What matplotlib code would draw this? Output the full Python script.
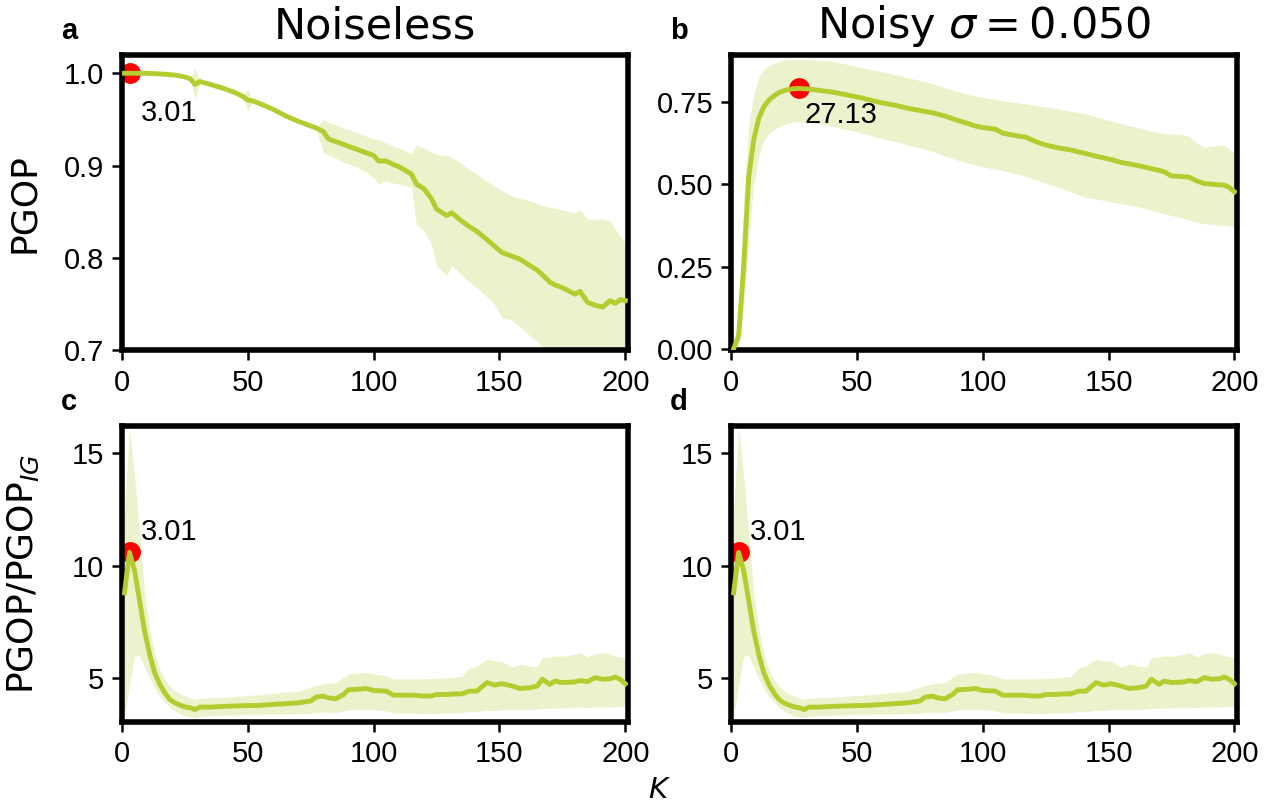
import matplotlib

matplotlib.use("Agg")
import matplotlib.pyplot as plt

# K grid (shared by all panels)
K = [1, 3.01, 5, 7, 9, 11, 13, 15, 17, 19,
     21, 23, 25, 27.13, 29, 31, 35, 40, 45, 48,
     50, 52, 55, 60, 65, 70, 75, 77, 80, 82,
     85, 88, 90, 95, 97, 100, 102, 105, 108, 110,
     115, 117, 120, 123, 125, 129, 131, 135, 138, 141,
     145, 148, 151, 155, 158, 162, 165, 167, 170, 172,
     175, 180, 182, 185, 188, 191, 194, 196, 198, 200]

# a: PGOP, noiseless
PGOP_CLEAN = [1.000, 1.000, 1.000, 1.000, 1.000, 0.9998, 0.9996, 0.9993, 0.999, 0.9985,
              0.998, 0.997, 0.996, 0.994, 0.988, 0.991, 0.988, 0.984, 0.979, 0.975,
              0.971, 0.970, 0.967, 0.961, 0.954, 0.948, 0.943, 0.941, 0.937, 0.929,
              0.926, 0.923, 0.921, 0.916, 0.914, 0.911, 0.905, 0.905, 0.901, 0.899,
              0.891, 0.880, 0.875, 0.864, 0.853, 0.846, 0.849, 0.840, 0.834, 0.829,
              0.820, 0.813, 0.806, 0.802, 0.799, 0.792, 0.787, 0.782, 0.774, 0.771,
              0.768, 0.761, 0.764, 0.752, 0.749, 0.747, 0.754, 0.751, 0.755, 0.754]
PGOP_CLEAN_HI = [1.000, 1.000, 1.000, 1.000, 1.000, 0.9998, 0.9996, 0.9993, 0.999, 0.9985,
                 0.998, 0.997, 0.996, 0.994, 1.006, 0.991, 0.988, 0.984, 0.979, 0.975,
                 0.983, 0.970, 0.967, 0.961, 0.954, 0.948, 0.943, 0.941, 0.950, 0.947,
                 0.944, 0.941, 0.939, 0.934, 0.932, 0.929, 0.928, 0.925, 0.921, 0.919,
                 0.913, 0.922, 0.919, 0.915, 0.912, 0.911, 0.909, 0.902, 0.896, 0.891,
                 0.883, 0.878, 0.873, 0.867, 0.865, 0.862, 0.859, 0.857, 0.855, 0.854,
                 0.852, 0.849, 0.852, 0.842, 0.842, 0.842, 0.840, 0.831, 0.824, 0.817]
PGOP_CLEAN_LO = [1.000, 1.000, 1.000, 1.000, 1.000, 0.9998, 0.9996, 0.9993, 0.999, 0.9985,
                 0.998, 0.997, 0.996, 0.994, 0.972, 0.991, 0.988, 0.984, 0.979, 0.975,
                 0.959, 0.970, 0.967, 0.961, 0.954, 0.948, 0.943, 0.941, 0.914, 0.912,
                 0.908, 0.904, 0.902, 0.896, 0.893, 0.887, 0.880, 0.884, 0.881, 0.880,
                 0.877, 0.836, 0.830, 0.815, 0.792, 0.781, 0.792, 0.782, 0.774, 0.768,
                 0.758, 0.750, 0.735, 0.733, 0.726, 0.716, 0.710, 0.703, 0.695, 0.690,
                 0.685, 0.678, 0.675, 0.672, 0.668, 0.665, 0.663, 0.662, 0.660, 0.660]

# b: PGOP, noisy sigma = 0.05
PGOP_NOISY = [0.000, 0.040, 0.25, 0.52, 0.635, 0.70, 0.735, 0.755, 0.768, 0.778,
              0.784, 0.788, 0.790, 0.791, 0.790, 0.789, 0.785, 0.780, 0.773, 0.768,
              0.765, 0.762, 0.756, 0.747, 0.740, 0.731, 0.724, 0.721, 0.717, 0.713,
              0.707, 0.699, 0.694, 0.682, 0.677, 0.672, 0.670, 0.667, 0.655, 0.652,
              0.645, 0.643, 0.633, 0.624, 0.619, 0.612, 0.609, 0.604, 0.598, 0.593,
              0.585, 0.580, 0.575, 0.566, 0.562, 0.556, 0.551, 0.547, 0.542, 0.538,
              0.525, 0.523, 0.521, 0.510, 0.502, 0.500, 0.498, 0.497, 0.490, 0.477]
PGOP_NOISY_LO = [0.000, 0.000, 0.12, 0.33, 0.50, 0.585, 0.634, 0.652, 0.665, 0.674,
                 0.681, 0.686, 0.689, 0.690, 0.689, 0.688, 0.683, 0.676, 0.668, 0.663,
                 0.659, 0.655, 0.649, 0.639, 0.630, 0.620, 0.611, 0.606, 0.600, 0.594,
                 0.585, 0.578, 0.573, 0.562, 0.558, 0.553, 0.550, 0.546, 0.542, 0.538,
                 0.528, 0.524, 0.516, 0.508, 0.503, 0.493, 0.488, 0.477, 0.468, 0.460,
                 0.455, 0.451, 0.446, 0.441, 0.437, 0.431, 0.426, 0.421, 0.415, 0.410,
                 0.405, 0.396, 0.392, 0.384, 0.380, 0.378, 0.376, 0.375, 0.373, 0.371]
PGOP_NOISY_HI = [0.000, 0.090, 0.45, 0.68, 0.77, 0.825, 0.848, 0.860, 0.868, 0.873,
                 0.876, 0.877, 0.878, 0.878, 0.878, 0.877, 0.876, 0.873, 0.866, 0.861,
                 0.857, 0.854, 0.849, 0.842, 0.833, 0.824, 0.815, 0.811, 0.806, 0.800,
                 0.793, 0.786, 0.781, 0.772, 0.768, 0.764, 0.761, 0.758, 0.754, 0.751,
                 0.746, 0.744, 0.741, 0.737, 0.735, 0.730, 0.727, 0.722, 0.718, 0.714,
                 0.705, 0.699, 0.692, 0.684, 0.678, 0.671, 0.665, 0.661, 0.657, 0.654,
                 0.653, 0.650, 0.645, 0.626, 0.612, 0.615, 0.618, 0.619, 0.605, 0.594]

# c, d: PGOP / PGOP_IG (same curve in both columns)
RATIO = [8.8, 10.6, 9.8, 8.46, 7.1, 6.07, 5.25, 4.73, 4.36, 4.06,
         3.91, 3.81, 3.73, 3.69, 3.61, 3.72, 3.72, 3.75, 3.77, 3.78,
         3.79, 3.79, 3.80, 3.84, 3.87, 3.91, 3.99, 4.16, 4.21, 4.13,
         4.09, 4.28, 4.49, 4.52, 4.55, 4.46, 4.45, 4.43, 4.25, 4.25,
         4.25, 4.24, 4.21, 4.22, 4.28, 4.28, 4.30, 4.31, 4.43, 4.43,
         4.81, 4.70, 4.76, 4.66, 4.55, 4.58, 4.66, 4.96, 4.73, 4.88,
         4.81, 4.84, 4.90, 4.85, 5.03, 4.96, 4.98, 5.06, 4.95, 4.76]
RATIO_LO = [3.3, 4.7, 6.0, 6.0, 5.5, 5.0, 4.55, 4.2, 3.95, 3.72,
            3.55, 3.43, 3.33, 3.28, 3.24, 3.30, 3.33, 3.35, 3.37, 3.38,
            3.39, 3.39, 3.39, 3.40, 3.41, 3.43, 3.45, 3.48, 3.50, 3.49,
            3.48, 3.55, 3.60, 3.62, 3.62, 3.60, 3.58, 3.55, 3.47, 3.46,
            3.45, 3.45, 3.44, 3.43, 3.45, 3.46, 3.46, 3.47, 3.52, 3.52,
            3.58, 3.56, 3.60, 3.62, 3.60, 3.62, 3.64, 3.68, 3.66, 3.68,
            3.68, 3.70, 3.72, 3.70, 3.72, 3.72, 3.73, 3.74, 3.75, 3.76]
RATIO_HI = [12.5, 16.1, 14.0, 11.5, 8.8, 7.2, 6.1, 5.4, 4.95, 4.65,
            4.45, 4.32, 4.22, 4.13, 4.06, 4.12, 4.13, 4.15, 4.19, 4.22,
            4.24, 4.25, 4.27, 4.33, 4.38, 4.43, 4.60, 4.68, 4.75, 4.78,
            4.80, 5.05, 5.18, 5.25, 5.27, 5.20, 5.17, 5.12, 4.97, 4.97,
            4.97, 4.97, 4.98, 4.99, 5.00, 5.02, 5.04, 5.08, 5.45, 5.55,
            5.85, 5.78, 5.75, 5.50, 5.63, 5.55, 5.50, 5.93, 5.95, 6.00,
            5.98, 6.07, 6.15, 5.95, 6.10, 6.15, 6.07, 6.00, 5.95, 5.93]

PEAK_IDX = [1, 13, 1, 1]  # index into K of the marked optimum, panels a-d
LETTERS = ["a", "b", "c", "d"]
TITLES = ["Noiseless", r"Noisy $\sigma = 0.050$"]

LINE = "#b5cc30"
TICK_FONT = "Liberation Sans"

plt.rcParams["font.family"] = ["DejaVu Sans"]
fig, axes = plt.subplots(2, 2, figsize=(12.73, 8.06), dpi=100)
fig.subplots_adjust(left=0.0958, right=0.9717, top=0.932, bottom=0.104,
                    wspace=0.204, hspace=0.257)

panels = [
    (PGOP_CLEAN, PGOP_CLEAN_LO, PGOP_CLEAN_HI, (0.7, 1.02), [0.7, 0.8, 0.9, 1.0], "%.1f", (8, -34)),
    (PGOP_NOISY, PGOP_NOISY_LO, PGOP_NOISY_HI, (-0.005, 0.893), [0, 0.25, 0.5, 0.75], "%.2f", (4, -25)),
    (RATIO, RATIO_LO, RATIO_HI, (3.05, 16.2), [5, 10, 15], "%d", (8, 9)),
    (RATIO, RATIO_LO, RATIO_HI, (3.05, 16.2), [5, 10, 15], "%d", (8, 9)),
]

for i, ax in enumerate(axes.flat):
    mean, lo, hi, ylim, yticks, fmt, off = panels[i]
    ax.fill_between(K, lo, hi, color=LINE, alpha=0.25, linewidth=0, zorder=1)
    p = PEAK_IDX[i]
    ax.plot(K[p], mean[p], "o", color="red", markersize=14, zorder=2, clip_on=False)
    ax.plot(K, mean, color=LINE, linewidth=3.5, zorder=3)
    ax.annotate(f"{K[p]:.2f}", (K[p], mean[p]), xytext=off, textcoords="offset points",
                ha="left", va="baseline", fontsize=21, family=TICK_FONT)
    ax.set_xlim(0, 201)
    ax.set_ylim(*ylim)
    ax.set_xticks([0, 50, 100, 150, 200])
    ax.set_yticks(yticks)
    ax.yaxis.set_major_formatter(matplotlib.ticker.FormatStrFormatter(fmt))
    for s in ax.spines.values():
        s.set_linewidth(4)
    ax.tick_params(direction="out", length=7, width=1.8, pad=6, labelsize=21)
    for lab in ax.get_xticklabels() + ax.get_yticklabels():
        lab.set_family(TICK_FONT)
    pos = ax.get_position()
    fig.text(pos.x0 - 0.048, pos.y1 + 0.02, LETTERS[i], fontsize=21,
             fontweight="bold", family=TICK_FONT, ha="left", va="baseline")

for ax, title in zip(axes[0], TITLES):
    ax.set_title(title, fontsize=31, pad=12)

axes[0, 0].set_ylabel("PGOP", fontsize=26)
axes[1, 0].set_ylabel(r"PGOP/PGOP$_{IG}$", fontsize=26)
for ax in axes[:, 0]:
    ax.yaxis.set_label_coords(-0.16, 0.5)

fig.text(0.518, 0.02, "$K$", fontsize=21, ha="center", va="center")

fig.savefig("out.png", dpi=100)
